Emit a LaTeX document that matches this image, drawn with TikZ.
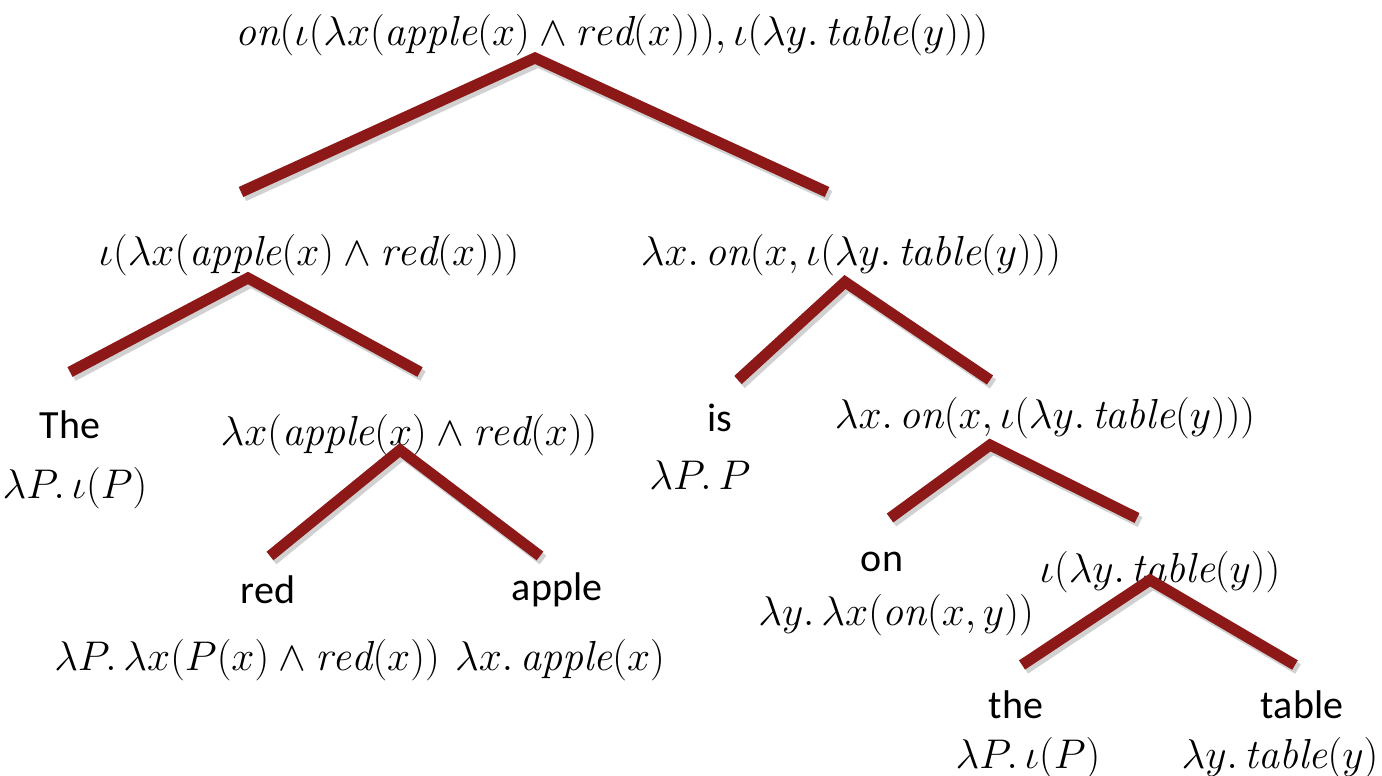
\documentclass[tikz,border=0pt]{standalone}
\usepackage{fontspec}
\newfontfamily\wordfont{Carlito}
\definecolor{treered}{RGB}{140,24,24}
\tikzset{
  branch/.style={line width=5.5pt, draw=treered, line join=miter, line cap=butt},
  shadowline/.style={line width=5.5pt, draw=black!18, line join=miter, line cap=butt, transform canvas={xshift=1.5pt,yshift=-2pt}},
  mathlbl/.style={inner sep=0pt, font=\fontsize{21}{24}\selectfont},
  wordlbl/.style={inner sep=0pt, font=\wordfont\fontsize{20}{23}\selectfont},
}
\begin{document}
\begin{tikzpicture}[x=0.5pt,y=-0.5pt]
\useasboundingbox (0,0) rectangle (1382,776);
% labels
\node[mathlbl] (root) at (612,35) {$\mathit{on}(\iota(\lambda x(\mathit{apple}(x)\wedge \mathit{red}(x))),\iota(\lambda y.\,\mathit{table}(y)))$};
\node[mathlbl] (np) at (309,255) {$\iota(\lambda x(\mathit{apple}(x)\wedge \mathit{red}(x)))$};
\node[mathlbl] (vp) at (851,255) {$\lambda x.\,\mathit{on}(x,\iota(\lambda y.\,\mathit{table}(y)))$};
\node[wordlbl] (the1) at (70,425) {The};
\node[mathlbl] (the1s) at (75,488) {$\lambda P.\,\iota(P)$};
\node[mathlbl] (nbar) at (409,435) {$\lambda x(\mathit{apple}(x)\wedge \mathit{red}(x))$};
\node[wordlbl] (is) at (720,418) {is};
\node[mathlbl] (iss) at (700,475) {$\lambda P.\,P$};
\node[mathlbl] (pp) at (1045,418) {$\lambda x.\,\mathit{on}(x,\iota(\lambda y.\,\mathit{table}(y)))$};
\node[wordlbl] (on) at (882,562) {on};
\node[mathlbl] (ons) at (896,615) {$\lambda y.\,\lambda x(\mathit{on}(x,y))$};
\node[mathlbl] (np2) at (1160,572) {$\iota(\lambda y.\,\mathit{table}(y))$};
\node[wordlbl] (red) at (268,590) {red};
\node[wordlbl] (apple) at (557,590) {apple};
\node[mathlbl] (reds) at (247,660) {$\lambda P.\,\lambda x(P(x)\wedge \mathit{red}(x))$};
\node[mathlbl] (apples) at (560,660) {$\lambda x.\,\mathit{apple}(x)$};
\node[wordlbl] (the2) at (1016,705) {the};
\node[mathlbl] (the2s) at (1028,758) {$\lambda P.\,\iota(P)$};
\node[wordlbl] (table) at (1302,705) {table};
\node[mathlbl] (tables) at (1280,758) {$\lambda y.\,\mathit{table}(y)$};
% branch points
\coordinate (a0) at (535,58);  \coordinate (l0) at (241,192);  \coordinate (r0) at (827,192);
\coordinate (a1) at (248,278); \coordinate (l1) at (70,372);   \coordinate (r1) at (420,372);
\coordinate (a2) at (845,282); \coordinate (l2) at (738,380);  \coordinate (r2) at (990,380);
\coordinate (a3) at (400,450); \coordinate (l3) at (270,556);  \coordinate (r3) at (540,556);
\coordinate (a4) at (990,445); \coordinate (l4) at (890,518);  \coordinate (r4) at (1137,518);
\coordinate (a5) at (1150,580);\coordinate (l5) at (1022,665); \coordinate (r5) at (1295,665);
\foreach \i in {0,...,5} {
  \draw[shadowline] (l\i) -- (a\i) -- (r\i);
}
\foreach \i in {0,...,5} {
  \draw[branch] (l\i) -- (a\i) -- (r\i);
}
\end{tikzpicture}
\end{document}
